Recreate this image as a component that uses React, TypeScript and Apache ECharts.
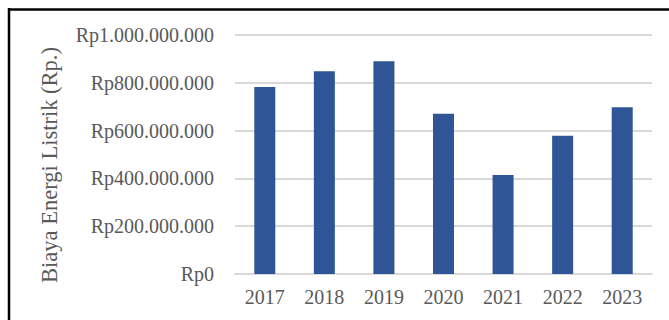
import React, { useEffect, useRef } from "react";
import * as echarts from "echarts";

const years = ["2017", "2018", "2019", "2020", "2021", "2022", "2023"];
const biaya = [782000000, 848000000, 890000000, 671000000, 414000000, 578000000, 698000000];
const yAxisTitle = "Biaya Energi Listrik (Rp.)";

function formatRp(v: number): string {
  const s = Math.round(v).toString().replace(/\B(?=(\d{3})+(?!\d))/g, ".");
  return "Rp" + s;
}

export default function App() {
  const ref = useRef<HTMLDivElement>(null);
  useEffect(() => {
    if (!ref.current) return;
    const chart = echarts.init(ref.current, undefined, { renderer: "svg" });
    const font = "'Liberation Serif', 'Times New Roman', serif";
    chart.setOption({
      animation: false,
      backgroundColor: "#ffffff",
      grid: { left: 235, right: 17, top: 35, bottom: 46 },
      xAxis: {
        type: "category",
        data: years,
        axisLine: { show: true, lineStyle: { color: "#d9d9d9", width: 2 } },
        axisTick: { show: false },
        axisLabel: { color: "#595959", fontFamily: font, fontSize: 20, margin: 13 },
      },
      yAxis: {
        type: "value",
        min: 0,
        max: 1000000000,
        interval: 200000000,
        axisLine: { show: false },
        axisTick: { show: false },
        splitLine: { lineStyle: { color: "#d9d9d9", width: 2 } },
        axisLabel: {
          color: "#595959",
          fontFamily: font,
          fontSize: 20,
          margin: 21,
          formatter: (v: number) => formatRp(v),
        },
      },
      series: [
        {
          type: "bar",
          data: biaya,
          barWidth: 21,
          itemStyle: { color: "#2F5597" },
        },
      ],
      graphic: [
        { type: "line", shape: { x1: 9, y1: 8, x2: 9, y2: 320 }, style: { stroke: "#000", lineWidth: 2.5 } },
        { type: "line", shape: { x1: 8, y1: 9.5, x2: 669, y2: 9.5 }, style: { stroke: "#000", lineWidth: 2.5 } },
        {
          type: "text",
          x: 49,
          y: 165,
          rotation: Math.PI / 2,
          style: {
            text: yAxisTitle,
            fill: "#595959",
            font: "22.5px 'Liberation Serif', 'Times New Roman', serif",
            align: "center",
            verticalAlign: "middle",
          },
        },
      ],
    });
    return () => chart.dispose();
  }, []);
  return (
    <div
      ref={ref}
      style={{ position: "fixed", left: 0, top: 0, width: 669, height: 320 }}
    />
  );
}
